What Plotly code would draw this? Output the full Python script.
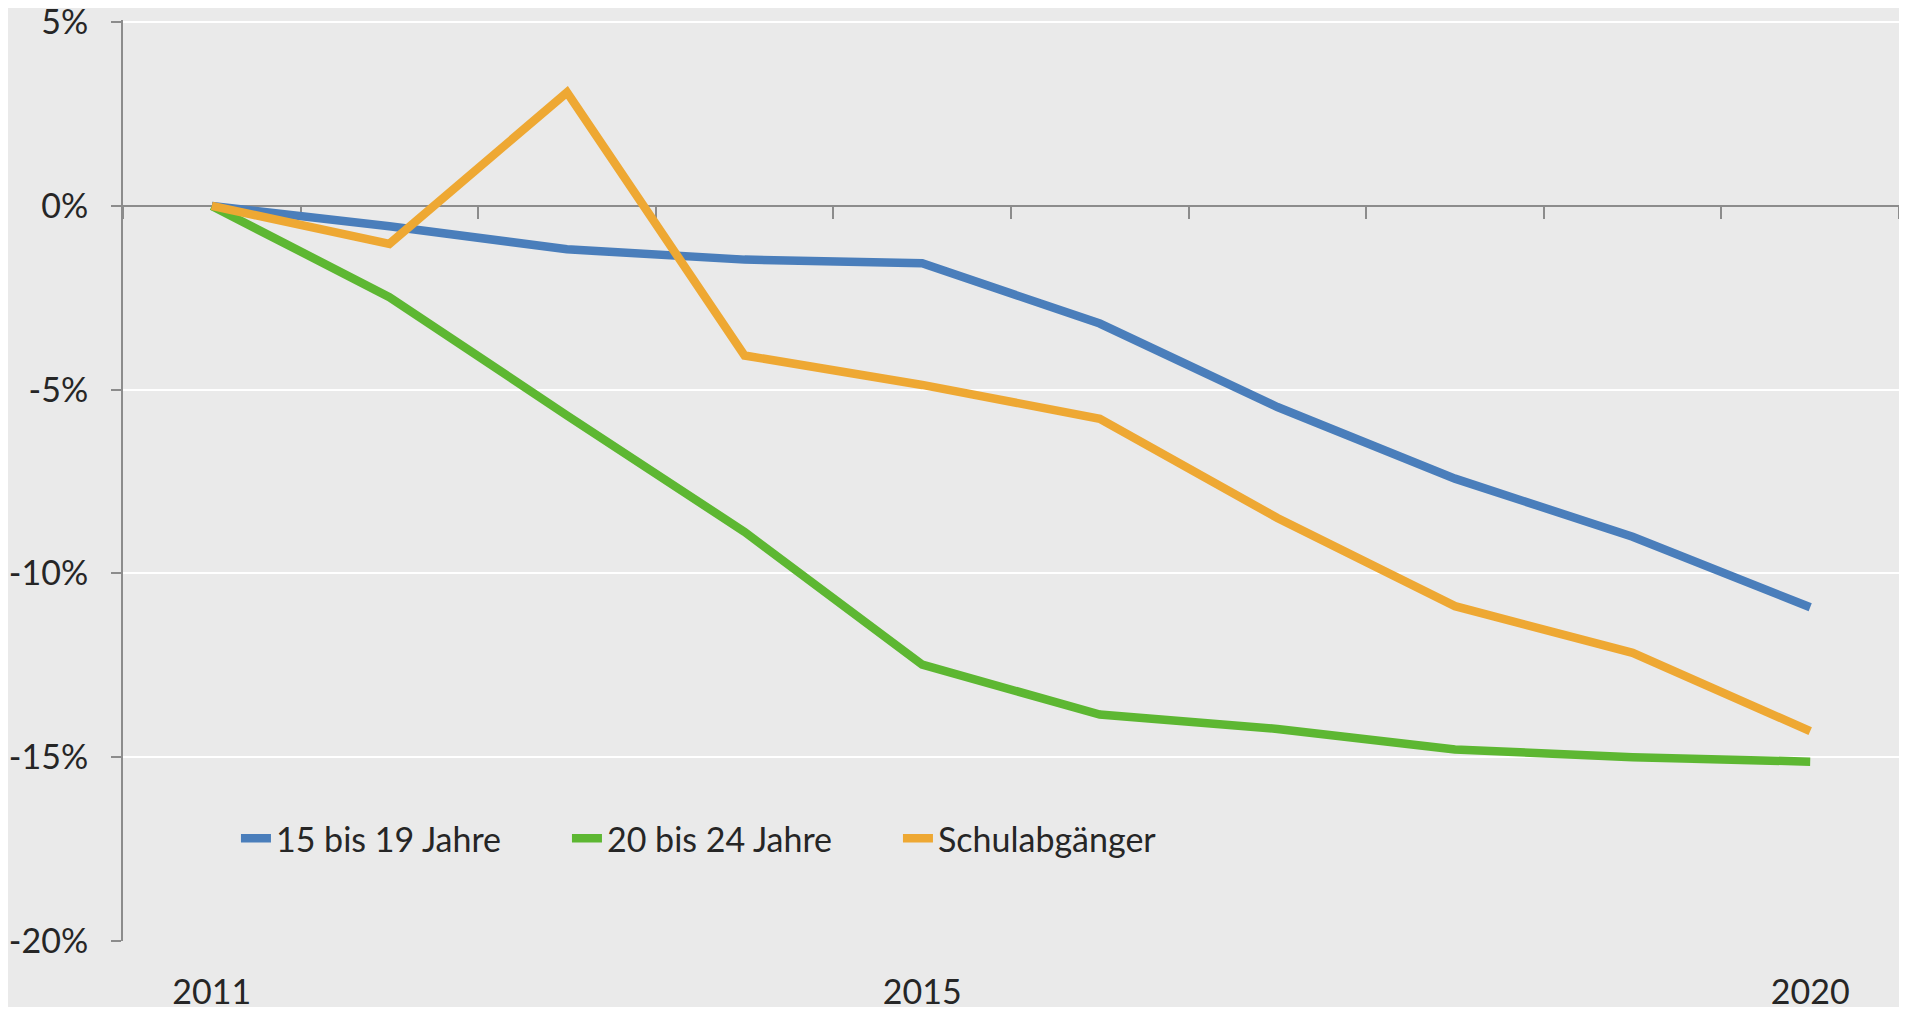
import plotly.graph_objects as go

years = ["2011", "2012", "2013", "2014", "2015", "2016", "2017", "2018", "2019", "2020"]
s_15_19 = [0.0, -0.55, -1.18, -1.46, -1.56, -3.2, -5.47, -7.42, -9.0, -10.92]
s_20_24 = [0.0, -2.48, -5.7, -8.87, -12.48, -13.84, -14.23, -14.79, -15.0, -15.12]
s_schul = [0.0, -1.03, 3.09, -4.07, -4.87, -5.79, -8.49, -10.89, -12.16, -14.29]

names = ["15 bis 19 Jahre", "20 bis 24 Jahre", "Schulabgänger"]
colors = ["#4A7EBB", "#5DB732", "#EEA833"]

x_tickvals = ["2011", "2015", "2020"]
y_tickvals = [5, 0, -5, -10, -15, -20]
y_ticktext = ["5%", "0%", "-5%", "-10%", "-15%", "-20%"]
y_range = [-20.0005, 5.06]

FONT = "Lato"
bg = "#EAEAEA"

fig = go.Figure()
for name, vals, col in zip(names, [s_15_19, s_20_24, s_schul], colors):
    fig.add_trace(go.Scatter(x=years, y=vals, mode="lines", name=name,
                             line=dict(color=col, width=8.5)))

# invisible helper trace so the 0%-crossing category axis is drawn
fig.add_trace(go.Scatter(x=years, y=s_15_19, xaxis="x2", mode="lines", opacity=0,
                         showlegend=False, hoverinfo="skip"))

zero_pos = (0 - y_range[0]) / (y_range[1] - y_range[0])

fig.update_layout(
    width=1891, height=999,
    margin=dict(l=115, r=0, t=12, b=66, autoexpand=False),
    paper_bgcolor=bg, plot_bgcolor=bg,
    font=dict(family=FONT, size=34, color="#262626"),
    showlegend=True,
    legend=dict(orientation="h", x=0.0636, xanchor="left", y=0.111, yanchor="middle",
                bgcolor="rgba(0,0,0,0)", font=dict(family=FONT, size=34, color="#262626"),
                entrywidth=286, itemwidth=30, tracegroupgap=0),
    xaxis=dict(type="category", categoryarray=years, range=[-0.5, 9.5],
               tickmode="array", tickvals=x_tickvals, ticktext=x_tickvals,
               showgrid=False, showline=False, zeroline=False, ticks="",
               automargin=False,
               ticklabelstandoff=28, tickfont=dict(family=FONT, size=34, color="#262626")),
    xaxis2=dict(type="category", categoryarray=years, range=[-0.5, 9.5],
                overlaying="x", anchor="free", position=zero_pos, side="bottom",
                showticklabels=False, showgrid=False, zeroline=False,
                showline=True, linecolor="#8C8C8C", linewidth=2,
                ticks="outside", tickson="boundaries", ticklen=12, tickwidth=2,
                tickcolor="#8C8C8C", layer="below traces"),
    yaxis=dict(range=y_range, tickmode="array", tickvals=y_tickvals, ticktext=y_ticktext,
               showgrid=True, gridcolor="#FFFFFF", gridwidth=2, zeroline=False,
               showline=True, linecolor="#8C8C8C", linewidth=2,
               ticks="outside", ticklen=10, tickwidth=2, tickcolor="#8C8C8C",
               automargin=False, ticklabeloverflow="allow",
               ticklabelstandoff=16, tickfont=dict(family=FONT, size=34, color="#262626")),
)

fig.write_html("out.html")
